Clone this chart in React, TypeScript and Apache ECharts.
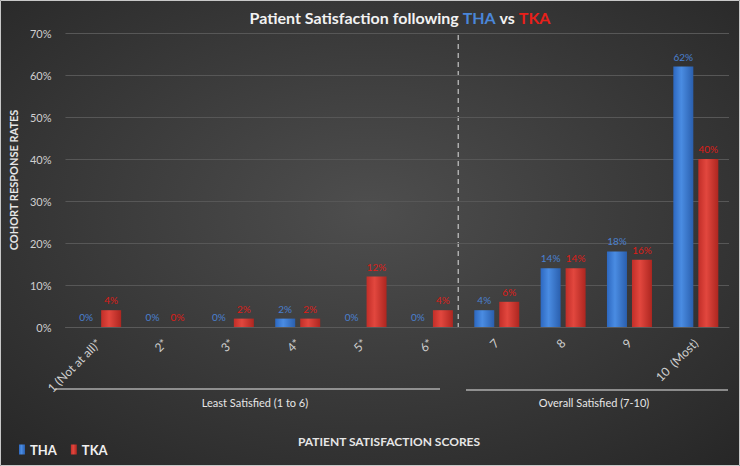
import React, { useEffect, useRef } from "react";
import * as echarts from "echarts";

const categories = ["1 (Not at all)*", "2*", "3*", "4*", "5*", "6*", "7", "8", "9", "10  (Most)"];
const thaValues = [0, 0, 0, 2, 0, 0, 4, 14, 18, 62];
const tkaValues = [4, 0, 2, 2, 12, 4, 6, 14, 16, 40];
const groupLabels = ["Least Satisfied (1 to 6)", "Overall Satisfied (7-10)"];

const W = 740;
const H = 466;
const GRID_LEFT = 52;
const GRID_RIGHT = 11;
const GRID_TOP = 33;
const GRID_BOTTOM = 139;

export default function App() {
  const ref = useRef<HTMLDivElement>(null);
  useEffect(() => {
    if (!ref.current) return;
    const chart = echarts.init(ref.current, undefined, { renderer: "svg" });
    const plotW = W - GRID_LEFT - GRID_RIGHT;
    const catW = plotW / categories.length;
    const splitX = GRID_LEFT + catW * 6;
    const baseY = H - GRID_BOTTOM;
    const font = "Lato, 'Open Sans', sans-serif";

    const blueGrad = new echarts.graphic.LinearGradient(0, 0, 1, 0, [
      { offset: 0, color: "#2d68c0" },
      { offset: 0.4, color: "#4a8ce2" },
      { offset: 1, color: "#2a5fae" },
    ]);
    const redGrad = new echarts.graphic.LinearGradient(0, 0, 1, 0, [
      { offset: 0, color: "#c22e28" },
      { offset: 0.4, color: "#e2473e" },
      { offset: 1, color: "#ad2620" },
    ]);

    chart.setOption({
      animation: false,
      backgroundColor: new echarts.graphic.RadialGradient(0.5, 0.45, 0.75, [
        { offset: 0, color: "#4e4e4e" },
        { offset: 1, color: "#262626" },
      ]),
      textStyle: { fontFamily: font },
      title: {
        text: "Patient Satisfaction following {b|THA} vs {r|TKA}",
        left: 395,
        textAlign: "center",
        top: 4,
        textStyle: {
          color: "#f2f2f2",
          fontSize: 16,
          fontWeight: "bold",
          fontFamily: font,
          rich: {
            b: { color: "#4a86d8", fontSize: 16, fontWeight: "bold", fontFamily: font },
            r: { color: "#e8201a", fontSize: 16, fontWeight: "bold", fontFamily: font },
          },
        },
      },
      legend: {
        left: 14,
        top: 438,
        itemWidth: 6,
        itemHeight: 10,
        itemGap: 14,
        icon: "rect",
        textStyle: { color: "#f0f0f0", fontSize: 13, fontWeight: "bold", fontFamily: font },
        data: ["THA", "TKA"],
      },
      grid: { left: GRID_LEFT, right: GRID_RIGHT, top: GRID_TOP, bottom: GRID_BOTTOM },
      xAxis: {
        type: "category",
        data: categories,
        axisLine: { lineStyle: { color: "#5a5a5a" } },
        axisTick: { show: false },
        axisLabel: {
          interval: 0,
          rotate: 45,
          color: "#cfcfcf",
          fontSize: 12,
          margin: 14,
          fontFamily: font,
        },
      },
      yAxis: {
        type: "value",
        min: 0,
        max: 70,
        interval: 10,
        name: "COHORT RESPONSE RATES",
        nameLocation: "middle",
        nameRotate: 90,
        nameGap: 37,
        nameTextStyle: { color: "#e6e6e6", fontSize: 11, fontWeight: "bold", fontFamily: font },
        axisLine: { show: false },
        axisTick: { show: false },
        axisLabel: { color: "#d0d0d0", fontSize: 11, formatter: "{value}%", margin: 14, fontFamily: font },
        splitLine: { lineStyle: { color: "#575757", width: 1 } },
      },
      series: [
        {
          name: "THA",
          type: "bar",
          data: thaValues,
          barWidth: 20,
          barGap: "25%",
          itemStyle: { color: blueGrad },
          label: {
            show: true,
            position: "top",
            distance: 5,
            formatter: "{c}%",
            color: "#4a80d0",
            fontSize: 10,
            fontFamily: font,
          },
        },
        {
          name: "TKA",
          type: "bar",
          data: tkaValues,
          barWidth: 20,
          barGap: "25%",
          itemStyle: { color: redGrad },
          label: {
            show: true,
            position: "top",
            distance: 5,
            formatter: "{c}%",
            color: "#dd1d18",
            fontSize: 10,
            fontFamily: font,
          },
        },
      ],
      graphic: [
        {
          type: "rect",
          silent: true,
          shape: { x: 0.5, y: 0.5, width: W - 1, height: H - 1 },
          style: { fill: "none", stroke: "#c8c8c8", lineWidth: 1 },
        },
        {
          type: "line",
          silent: true,
          shape: { x1: splitX, y1: GRID_TOP + 2, x2: splitX, y2: baseY },
          style: { stroke: "#e0e0e0", lineWidth: 1, lineDash: [5, 4] },
        },
        {
          type: "line",
          silent: true,
          shape: { x1: 55, y1: 389, x2: 440, y2: 389 },
          style: { stroke: "#e8e8e8", lineWidth: 1.2 },
        },
        {
          type: "line",
          silent: true,
          shape: { x1: 466, y1: 390, x2: 728, y2: 390 },
          style: { stroke: "#e8e8e8", lineWidth: 1.2 },
        },
        {
          type: "text",
          silent: true,
          x: 255,
          y: 402,
          style: {
            text: groupLabels[0],
            fill: "#e6e6e6",
            fontSize: 11,
            fontFamily: font,
            align: "center",
            verticalAlign: "middle",
          },
        },
        {
          type: "text",
          silent: true,
          x: 594,
          y: 402,
          style: {
            text: groupLabels[1],
            fill: "#e6e6e6",
            fontSize: 11,
            fontFamily: font,
            align: "center",
            verticalAlign: "middle",
          },
        },
        {
          type: "text",
          silent: true,
          x: 389,
          y: 441,
          style: {
            text: "PATIENT SATISFACTION SCORES",
            fill: "#e6e6e6",
            fontSize: 12,
            fontWeight: "bold",
            fontFamily: font,
            align: "center",
            verticalAlign: "middle",
          },
        },
      ],
    });
    return () => chart.dispose();
  }, []);
  return (
    <div
      ref={ref}
      style={{ position: "absolute", left: 0, top: 0, width: W, height: H }}
    />
  );
}
